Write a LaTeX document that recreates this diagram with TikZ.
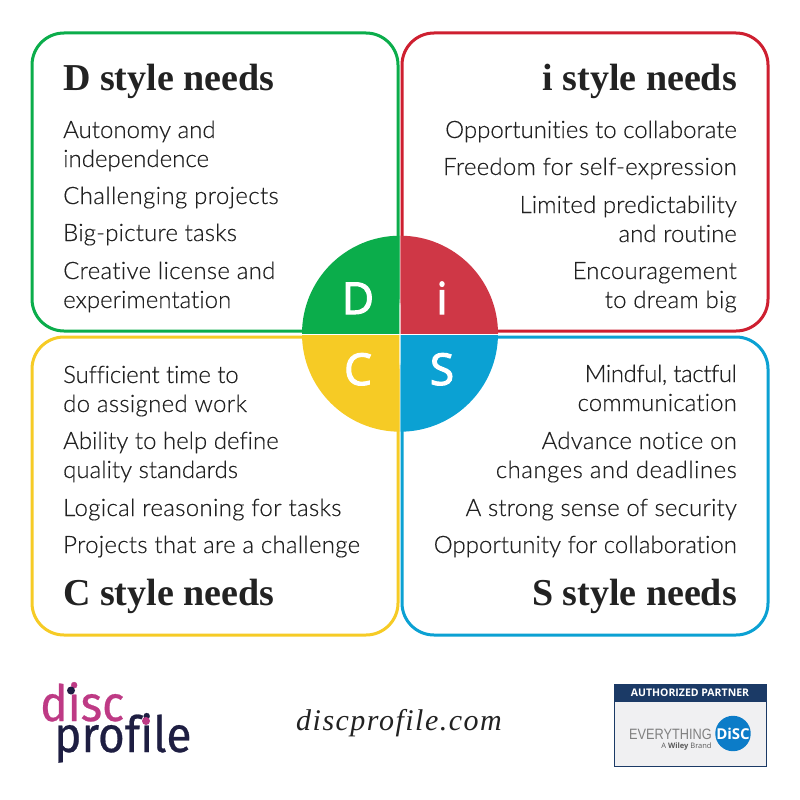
\documentclass[tikz,border=0pt]{standalone}
\usepackage{fontspec}
\setmainfont{Lato Light}[Ligatures=NoCommon,FakeBold=0.3]
\newcommand{\lsp}[2]{{\addfontfeature{LetterSpace=#1}#2}}
\newfontfamily\headfont{Liberation Serif}
\newfontfamily\logofont{Fira Sans}[Ligatures=NoCommon,FakeStretch=0.92,FakeBold=0.5]
\newfontfamily\urlfont{Liberation Serif}[LetterSpace=5]
\newfontfamily\badgefont{Open Sans}
\newfontfamily\letterfont{Open Sans}[FakeBold=2.5]
\newfontfamily\everyfont{Liberation Sans}[FakeStretch=0.85]
\definecolor{dgreen}{HTML}{0BAD4B}
\definecolor{ired}{HTML}{CF3746}
\definecolor{iline}{HTML}{CE1F30}
\definecolor{cyellow}{HTML}{F6CB25}
\definecolor{sblue}{HTML}{0BA1D3}
\definecolor{ink}{HTML}{222222}
\definecolor{discpink}{HTML}{BE3A85}
\definecolor{discnavy}{HTML}{1E1E42}
\definecolor{badgenavy}{HTML}{1B3A66}
\definecolor{badgegrey}{HTML}{F0F0F2}
\definecolor{badgeblue}{HTML}{0C7CC8}
\tikzset{
  x=1pt,y=-1pt,
  quad/.style={line width=3pt,rounded corners=32pt,fill=white},
  body/.style={font=\fontsize{24}{24}\selectfont,text=ink,inner sep=0pt},
  bl/.style={body,anchor=base west},
  br/.style={body,anchor=base east},
  headl/.style={font=\fontsize{38}{38}\headfont\bfseries\selectfont,text=ink,inner sep=0pt,anchor=base west},
  headr/.style={font=\fontsize{38}{38}\headfont\bfseries\selectfont,text=ink,inner sep=0pt,anchor=base east},
  letter/.style={font=\fontsize{44}{44}\letterfont\selectfont,text=white,inner sep=0pt,anchor=base},
  logodisc/.style={font=\fontsize{50}{50}\logofont\selectfont,inner sep=0pt,anchor=base west},
}
\begin{document}
\begin{tikzpicture}
\useasboundingbox (0,0) rectangle (800,800);
\fill[white] (0,0) rectangle (800,800);
% boxes
\draw[quad,draw=dgreen]  (32,33) rectangle (398,331);
\draw[quad,draw=iline]   (402,33) rectangle (768,331);
\draw[quad,draw=cyellow] (32,337) rectangle (398,635);
\draw[quad,draw=sblue]   (402,337) rectangle (768,635);
% circle
\begin{scope}\clip (200,100) rectangle (399.3,333.3);
\fill[dgreen] (400,333.7) circle[radius=98pt];\end{scope}
\begin{scope}\clip (400.7,100) rectangle (600,333.3);
\fill[ired] (400,333.7) circle[radius=98pt];\end{scope}
\begin{scope}\clip (200,335) rectangle (399.3,500);
\fill[cyellow] (400,333.7) circle[radius=98pt];\end{scope}
\begin{scope}\clip (400.7,335) rectangle (600,500);
\fill[sblue] (400,333.7) circle[radius=98pt];\end{scope}
\node[letter] (ld) at (358,314) {D};
\node[letter] (li) at (442,314) {i};
\node[letter] (lc) at (358,385) {C};
\node[letter] (ls) at (442,385) {S};
% D
\node[headl] (dh) at (63,90) {D style needs};
\node[bl] (d1) at (63,138) {Autonomy and};
\node[bl] (d2) at (63,167) {independence};
\node[bl] (d3) at (63,204) {\lsp{1.5}{Challenging projects}};
\node[bl] (d4) at (63,241) {\lsp{0.7}{Big-picture tasks}};
\node[bl] (d5) at (63,279) {\lsp{1.25}{Creative license and}};
\node[bl] (d6) at (63,308) {experimentation};
% i
\node[headr] (ih) at (737,90) {i style needs};
\node[br] (i1) at (737,138) {Opportunities to collaborate};
\node[br] (i2) at (737,175) {\lsp{1}{Freedom for self-expression}};
\node[br] (i3) at (737,213) {\lsp{0.4}{Limited predictability}};
\node[br] (i4) at (737,242) {and routine};
\node[br] (i5) at (737,279) {\lsp{0.8}{Encouragement}};
\node[br] (i6) at (737,308) {\lsp{1}{to dream big}};
% C
\node[bl] (c1) at (63,383) {\lsp{-0.7}{Sufficient time to}};
\node[bl] (c2) at (63,412) {\lsp{1.3}{do assigned work}};
\node[bl] (c3) at (63,449) {Ability to help define};
\node[bl] (c4) at (63,478) {quality standards};
\node[bl] (c5) at (63,516) {\lsp{1.4}{Logical reasoning for tasks}};
\node[bl] (c6) at (63,553) {\lsp{1.15}{Projects that are a challenge}};
\node[headl] (ch) at (63,605) {C style needs};
% S
\node[br] (s1) at (737,382) {\lsp{-1.7}{Mindful, tactful}};
\node[br] (s2) at (737,411) {\lsp{0.5}{communication}};
\node[br] (s3) at (737,449) {\lsp{0.9}{Advance notice on}};
\node[br] (s4) at (737,478) {\lsp{2}{changes and deadlines}};
\node[br] (s5) at (737,516) {\lsp{0.6}{A strong sense of security}};
\node[br] (s6) at (737,553) {Opportunity for collaboration};
\node[headr] (sh) at (737,605) {S style needs};
% logo
\node[logodisc,text=discpink] (disc) at (40,721) {disc};
\node[logodisc,text=discnavy] (prof) at (54,752) {profile};
\fill[discnavy] (71,690.5) circle[radius=4pt];
\fill[discpink] (146,721) circle[radius=4pt];
\node[font=\fontsize{30}{30}\urlfont\itshape\selectfont,text=ink,inner sep=0pt,anchor=base] (url) at (399,730) {discprofile.com};
% badge
\draw[fill=badgegrey,draw=badgenavy,line width=1pt] (614,684) rectangle (766,766);
\fill[badgenavy] (614,684) rectangle (766,702);
\node[font=\fontsize{10.5}{10.5}\badgefont\bfseries\selectfont,text=white,inner sep=0pt] (auth) at (690,693) {AUTHORIZED PARTNER};
\node[font=\fontsize{15}{15}\everyfont\selectfont,text=black!50,inner sep=0pt,anchor=base east] (every) at (712,739) {EVERYTHING};
\node[circle,fill=badgeblue,minimum size=35pt,inner sep=0pt,font=\fontsize{15}{15}\badgefont\bfseries\selectfont,text=white] (dsc) at (733,733.5) {DiSC};
\node[font=\fontsize{7.5}{7.5}\badgefont\selectfont,text=black!65,inner sep=0pt,anchor=base] (wiley) at (686.5,748) {A \textbf{Wiley} Brand};
\end{tikzpicture}
\end{document}
